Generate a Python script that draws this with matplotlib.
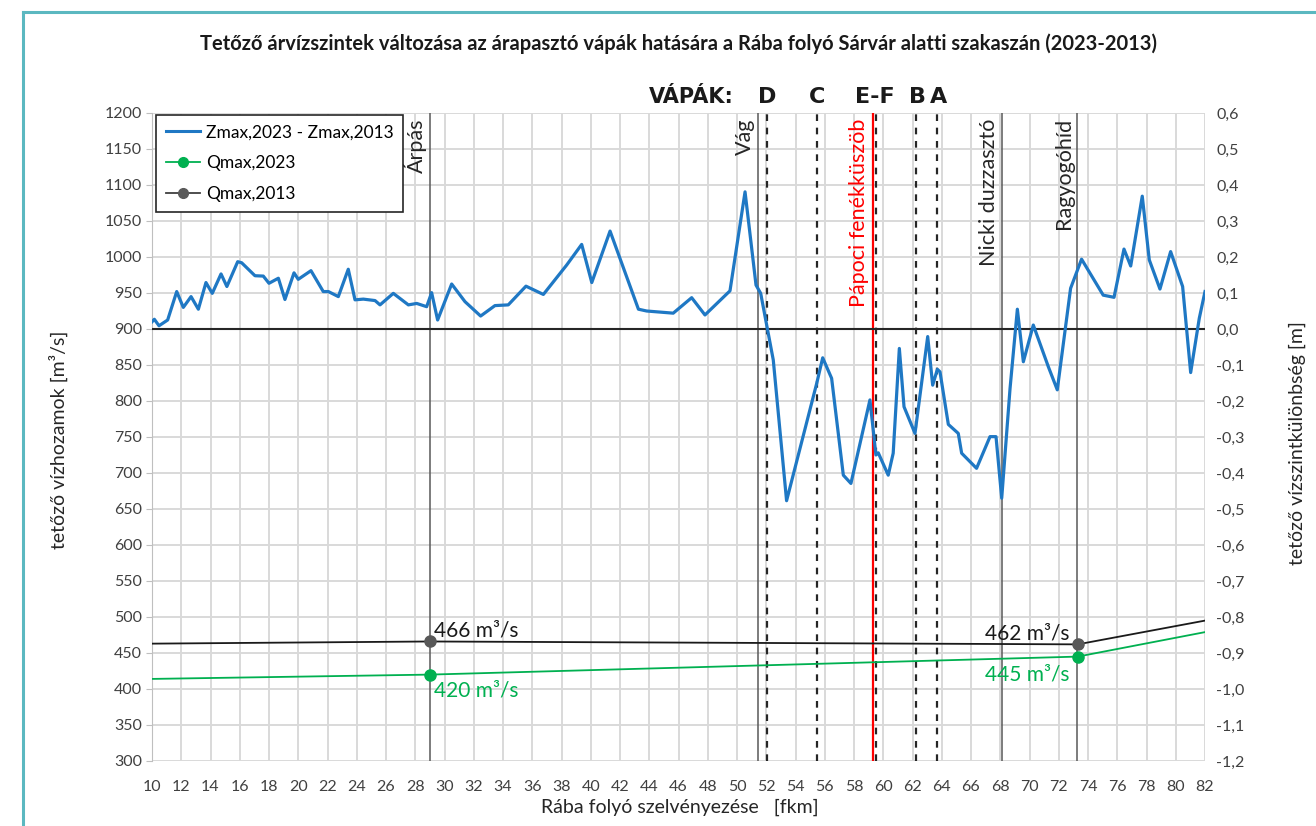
import matplotlib
matplotlib.use('Agg')
import numpy as np
import matplotlib.pyplot as plt
import matplotlib.transforms as mtransforms
from matplotlib import font_manager
from matplotlib.lines import Line2D

# ---------------- data ----------------
z_km = [10.0, 10.16, 10.48, 11.07, 11.69, 12.14, 12.67, 13.17, 13.69, 14.12, 14.72, 15.12,
        15.86, 16.13, 17.04, 17.61, 18.0, 18.64, 19.09, 19.71, 20.0, 20.87, 21.71, 22.06,
        22.74, 23.42, 23.88, 24.45, 25.25, 25.59, 26.5, 27.53, 28.1, 28.78, 29.12, 29.53,
        30.49, 31.4, 32.47, 33.45, 34.36, 35.57, 36.76, 38.36, 39.38, 40.07, 41.32, 43.26,
        43.82, 45.64, 46.9, 47.81, 49.52, 50.55, 51.3, 51.62, 52.48, 53.39, 55.45, 55.86,
        56.47, 57.27, 57.79, 59.09, 59.5, 59.66, 60.34, 60.68, 61.1, 61.42, 62.17, 63.04,
        63.38, 63.7, 63.88, 64.45, 65.13, 65.36, 66.38, 67.3, 67.71, 68.1, 68.67, 69.17,
        69.58, 70.26, 71.29, 71.9, 72.81, 73.56, 75.04, 75.78, 76.46, 76.92, 77.71, 78.19,
        78.92, 79.65, 80.47, 81.02, 81.61, 82.0]
z_diff = [0.020, 0.027, 0.009, 0.025, 0.104, 0.060, 0.090, 0.055, 0.129, 0.099, 0.153, 0.118,
          0.187, 0.184, 0.148, 0.147, 0.127, 0.141, 0.082, 0.156, 0.138, 0.162, 0.104, 0.104,
          0.090, 0.166, 0.081, 0.083, 0.079, 0.067, 0.099, 0.067, 0.071, 0.062, 0.101, 0.025,
          0.125, 0.076, 0.036, 0.065, 0.067, 0.119, 0.096, 0.178, 0.235, 0.129, 0.272, 0.055,
          0.050, 0.044, 0.087, 0.039, 0.106, 0.381, 0.122, 0.099, -0.086, -0.477, -0.151, -0.080,
          -0.137, -0.406, -0.429, -0.197, -0.350, -0.344, -0.406, -0.345, -0.054, -0.216, -0.290, -0.021,
          -0.156, -0.112, -0.119, -0.265, -0.290, -0.345, -0.387, -0.299, -0.299, -0.470, -0.165, 0.055,
          -0.091, 0.011, -0.105, -0.169, 0.113, 0.194, 0.094, 0.088, 0.222, 0.175, 0.369, 0.192,
          0.111, 0.215, 0.118, -0.121, 0.030, 0.104]

q_km = [10.0, 29.0, 73.3, 82.0]
q2013 = [463, 466, 462, 495]
q2023 = [414, 420, 445, 479]
marker_idx = [1, 2]

sites_km = [29.0, 51.46, 68.14, 73.27]
sites_lbl = ['Árpás', 'Vág', 'Nicki duzzasztó', 'Ragyogóhíd']
vapa_km = [52.03, 55.45, 59.5, 62.22, 63.65]
vapa_lbl_km = [52.05, 55.45, 59.4, 62.35, 63.75]
vapa_lbl = ['D', 'C', 'E-F', 'B', 'A']
papoc_km = 59.33

x_ticks = list(range(10, 83, 2))
q_ticks = list(range(300, 1201, 50))
z_ticks = [round(v, 1) for v in np.arange(-1.2, 0.61, 0.1)]

# ---------------- fonts ----------------
names = {f.name for f in font_manager.fontManager.ttflist}
base = 'Lato' if 'Lato' in names else 'DejaVu Sans'
narrow = 'Liberation Sans Narrow' if 'Liberation Sans Narrow' in names else base
plt.rcParams['font.family'] = [base, 'DejaVu Sans']

W, H = 1316, 826
fig = plt.figure(figsize=(W / 100, H / 100), dpi=100)
L, R, T, B = 152, 1205, 113, 761
ax = fig.add_axes([L / W, 1 - B / H, (R - L) / W, (B - T) / H])
ax.set_xlim(10, 82)
ax.set_ylim(300, 1200)
ax.set_xticks(x_ticks)
ax.set_yticks(q_ticks)
ax.grid(True, color='#d9d9d9', lw=1.4)
ax.set_axisbelow(True)
for s in ax.spines.values():
    s.set_visible(False)
ax.spines['left'].set_visible(True)
ax.spines['left'].set_color('#bfbfbf')
ax.tick_params(axis='y', length=4, color='#bfbfbf', labelsize=11.5, labelcolor='#404040', pad=3)
ax.tick_params(axis='x', length=0, labelsize=11.5, labelcolor='#404040', pad=14)

ax2 = ax.twinx()
ax2.set_ylim(-1.2, 0.6)
ax2.set_yticks(z_ticks)
ax2.set_yticklabels([('%.1f' % v).replace('.', ',').replace('-0,0', '0,0') for v in z_ticks])
for s in ax2.spines.values():
    s.set_visible(False)
ax2.tick_params(axis='y', length=0, labelsize=11.5, labelcolor='#404040', pad=8)

# vertical site lines
for k in sites_km:
    ax.axvline(k, color='#595959', lw=1.1, zorder=2)
for k in vapa_km:
    ax.axvline(k, color='#262626', lw=1.6, ls=(0, (3, 3)), zorder=2)
ax.axvline(papoc_km, color='#ff0000', lw=1.6, zorder=3)

def vlabel(x, s, color, dx=-3, ytop=0.992, size=15.5):
    tr = mtransforms.offset_copy(ax.get_xaxis_transform(), fig=fig, x=dx, y=0, units='dots')
    ax.text(x, ytop, s, rotation=90, ha='right', va='top', transform=tr,
            color=color, fontsize=size, zorder=4)

for k, s in zip(sites_km, sites_lbl):
    vlabel(k, s, '#262626')
vlabel(papoc_km, 'Pápoci fenékküszöb', '#ff0000', dx=-4)

# discharge lines
ax.plot(q_km, q2013, color='#1a1a1a', lw=1.3, zorder=5)
ax.plot([q_km[i] for i in marker_idx], [q2013[i] for i in marker_idx], 'o',
        color='#595959', ms=8, zorder=6)
ax.plot(q_km, q2023, color='#00b050', lw=1.3, zorder=5)
ax.plot([q_km[i] for i in marker_idx], [q2023[i] for i in marker_idx], 'o',
        color='#00b050', ms=8, zorder=6)

fs_ann = 15
ax.annotate('%d m³/s' % q2013[1], (q_km[1], q2013[1]), xytext=(4, 1),
            textcoords='offset pixels', ha='left', va='bottom', color='#1a1a1a', fontsize=fs_ann)
ax.annotate('%d m³/s' % q2023[1], (q_km[1], q2023[1]), xytext=(4, -6),
            textcoords='offset pixels', ha='left', va='top', color='#00b050', fontsize=fs_ann)
ax.annotate('%d m³/s' % q2013[2], (q_km[2], q2013[2]), xytext=(-8, 1),
            textcoords='offset pixels', ha='right', va='bottom', color='#1a1a1a', fontsize=fs_ann)
ax.annotate('%d m³/s' % q2023[2], (q_km[2], q2023[2]), xytext=(-8, -8),
            textcoords='offset pixels', ha='right', va='top', color='#00b050', fontsize=fs_ann)

# water level difference
ax2.axhline(0, color='#262626', lw=1.5, zorder=3)
ax2.plot(z_km, z_diff, color='#1f78c4', lw=2.3, zorder=4, solid_joinstyle='round')

# labels
ax.set_ylabel('tetőző vízhozamok [m³/s]', fontsize=14, color='#262626')
ax.yaxis.set_label_coords(-0.080, 0.495)
ax2.set_ylabel('tetőző vízszintkülönbség [m]', fontsize=14, color='#262626', rotation=90)
ax2.yaxis.set_label_coords(1.079, 0.49)
ax.set_xlabel('Rába folyó szelvényezése   [fkm]', fontsize=14, color='#262626')
ax.xaxis.set_label_coords(0.501, -0.058)

fig.text(679 / W, 1 - 44 / H,
         'Tetőző árvízszintek változása az árapasztó vápák hatására a Rába folyó Sárvár alatti szakaszán (2023-2013)',
         ha='center', va='center', fontsize=14.5, fontweight='bold', family=[narrow, 'DejaVu Sans'],
         color='#1a1a1a')

ytxt = (B - 97) / (B - T)
ax.text(691 / W, 1 - 97 / H, 'VÁPÁK:', transform=fig.transFigure, ha='center', va='center',
        fontsize=15, fontweight='bold', family=['DejaVu Sans'], color='#1a1a1a')
for k, s in zip(vapa_lbl_km, vapa_lbl):
    ax.text(k, ytxt, s, transform=ax.get_xaxis_transform(), ha='center', va='center',
            fontsize=16, fontweight='bold', family=['DejaVu Sans'], color='#1a1a1a', clip_on=False)

# legend
handles = [Line2D([], [], color='#1f78c4', lw=2.2),
           Line2D([], [], color='#00b050', lw=1.3, marker='o', ms=7),
           Line2D([], [], color='#404040', lw=1.3, marker='o', ms=7, markerfacecolor='#595959',
                  markeredgecolor='#595959')]
leg = ax2.legend(handles, ['Zmax,2023 - Zmax,2013', 'Qmax,2023', 'Qmax,2013'],
                 loc='upper left', bbox_to_anchor=(0.004, 0.997), borderaxespad=0,
                 fancybox=False, edgecolor='#262626', framealpha=1, fontsize=12.5,
                 handlelength=2.0, labelspacing=0.85, borderpad=0.55, handletextpad=0.3)
leg.get_frame().set_linewidth(1.2)
leg.set_zorder(10)

# teal frame
fig.add_artist(Line2D([23 / W, 1], [1 - 12 / H, 1 - 12 / H], transform=fig.transFigure,
                      color='#5bb8c0', lw=2.2))
fig.add_artist(Line2D([23 / W, 23 / W], [0, 1 - 12 / H], transform=fig.transFigure,
                      color='#5bb8c0', lw=2.2))

fig.savefig('out.png', dpi=100)
